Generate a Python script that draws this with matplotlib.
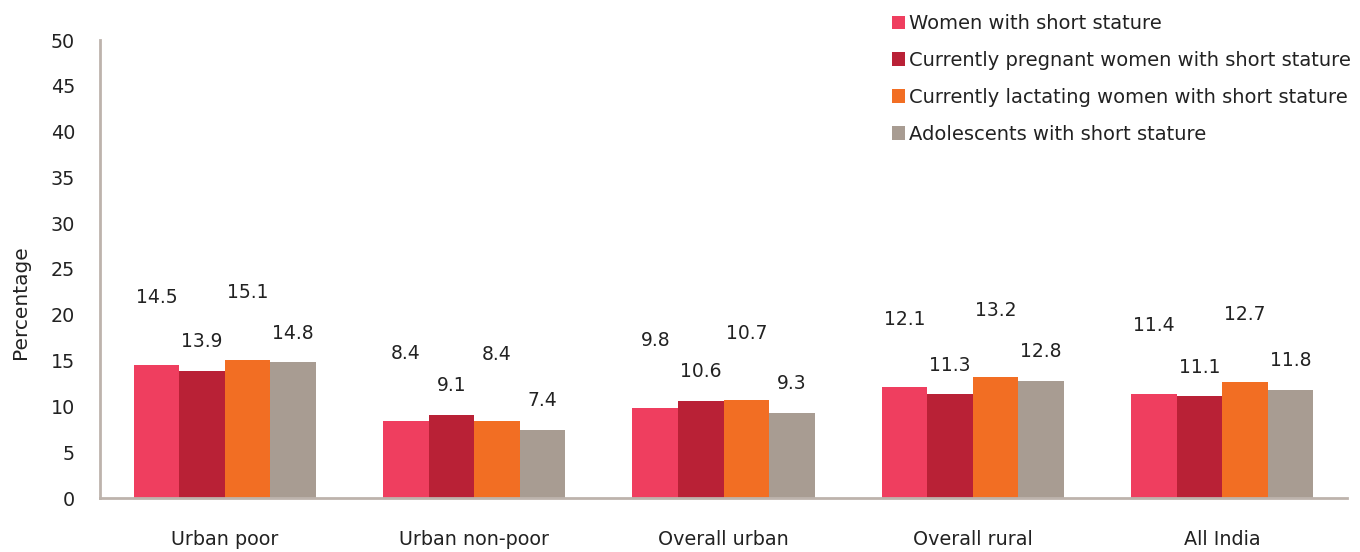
import matplotlib
matplotlib.use("Agg")
import matplotlib.pyplot as plt
import numpy as np

categories = ["Urban poor", "Urban non-poor", "Overall urban", "Overall rural", "All India"]
series_names = ["Women with short stature",
                "Currently pregnant women with short stature",
                "Currently lactating women with short stature",
                "Adolescents with short stature"]
women = [14.5, 8.4, 9.8, 12.1, 11.4]
pregnant = [13.9, 9.1, 10.6, 11.3, 11.1]
lactating = [15.1, 8.4, 10.7, 13.2, 12.7]
adolescents = [14.8, 7.4, 9.3, 12.8, 11.8]
yticks = [0, 5, 10, 15, 20, 25, 30, 35, 40, 45, 50]

series = [women, pregnant, lactating, adolescents]
colors = ["#EF3E5F", "#B92136", "#F26E23", "#A89C92"]
label_offsets = [7.4, 3.2, 7.3, 3.2]

plt.rcParams['font.family'] = ['DejaVu Sans']

fig = plt.figure(figsize=(13.6, 5.52), dpi=100)
ax = fig.add_axes([100/1360, 54/552, 1247/1360, 458/552])

x = np.arange(len(categories))
bw = 0.1825
handles = []
for i, (vals, col, off) in enumerate(zip(series, colors, label_offsets)):
    pos = x + (i - 1.5) * bw
    b = ax.bar(pos, vals, width=bw, color=col, linewidth=0)
    handles.append(b)
    for px, v in zip(pos, vals):
        ax.text(px, v + off, f"{v:.1f}", ha="center", va="center",
                fontsize=13.5, color="#222222")

ax.set_xlim(-0.5, len(categories) - 0.5)
ax.set_ylim(0, 50)
ax.set_yticks(yticks)
ax.set_yticklabels([str(t) for t in yticks], fontsize=13.8, color="#222222")
ax.set_xticks(x)
ax.set_xticklabels(categories, fontsize=13.8, color="#222222", va="top")
ax.tick_params(axis="x", length=0, pad=23)
ax.tick_params(axis="y", length=0, pad=18)
ax.set_ylabel("Percentage", fontsize=14.5, color="#222222")
ax.yaxis.set_label_coords(-0.056, 0.428)
for s in ["top", "right"]:
    ax.spines[s].set_visible(False)
for s in ["left", "bottom"]:
    ax.spines[s].set_color("#BDB3AC")
    ax.spines[s].set_linewidth(2)

leg = fig.legend(handles, series_names, loc="upper left",
                 bbox_to_anchor=(892/1360, 1 - 14/552), frameon=False,
                 fontsize=14, handlelength=0.68, handleheight=0.68,
                 handletextpad=0.2, labelspacing=0.92, borderaxespad=0,
                 borderpad=0)
for t in leg.get_texts():
    t.set_color("#222222")

fig.savefig("out.png", dpi=100)
